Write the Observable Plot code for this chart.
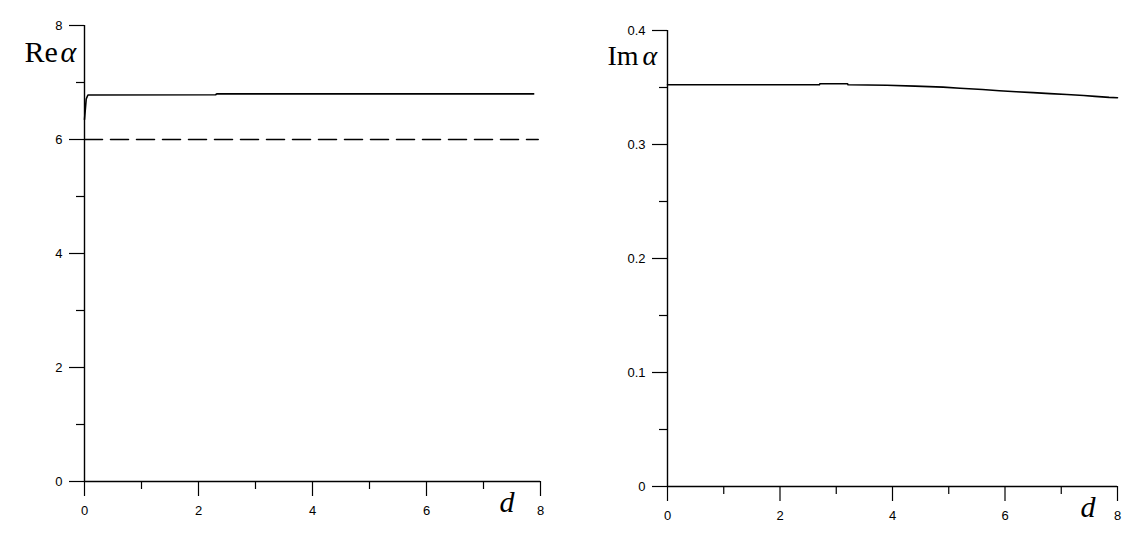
<!DOCTYPE html>
<html>
<head>
<meta charset="utf-8">
<script src="https://cdn.jsdelivr.net/npm/d3@7"></script>
<script src="https://cdn.jsdelivr.net/npm/@observablehq/plot@0.6"></script>
<style>
  html, body { margin: 0; padding: 0; background: #fff; }
  #wrap { width: 1140px; height: 545px; display: flex; flex-direction: row; }
  #wrap svg { display: block; }
  #wrap svg g[aria-label*="tick label"] text { font-size: 13px !important; font-family: 'Liberation Sans', Arial, sans-serif !important; }
</style>
</head>
<body>
<div id="wrap"></div>
<script>
// ---- Data ----
// Left panel: Re(alpha) vs d
const reD   = [0, 0.03, 0.06, 2.30, 2.32, 7.88];
const reVal = [6.35, 6.71, 6.78, 6.785, 6.80, 6.80];
// Dashed reference level
const refD   = [0, 7.96];
const refVal = [6, 6];
// Right panel: Im(alpha) vs d
const imD   = [0, 2.70, 2.71, 3.20, 3.21, 3.90, 4.40, 4.90, 5.20, 5.60, 5.90, 6.20, 6.50, 6.80, 7.10, 7.40, 7.60, 7.85, 8.00];
const imVal = [0.3524, 0.3524, 0.3533, 0.3533, 0.3524, 0.3520, 0.3512, 0.3503, 0.3494, 0.3483, 0.3472, 0.3463, 0.3455, 0.3446, 0.3438, 0.3430, 0.3422, 0.3413, 0.3410];

// Ticks
const xMajor = [0, 2, 4, 6, 8];
const xMinor = [1, 3, 5, 7];
const reMajor = [0, 2, 4, 6, 8];
const reMinor = [1, 3, 5, 7];
const imMajor = [0, 0.1, 0.2, 0.3, 0.4];
const imMinor = [0.05, 0.15, 0.25, 0.35];

const reRows  = reD.map((d, i) => ({d, v: reVal[i]}));
const refRows = refD.map((d, i) => ({d, v: refVal[i]}));
const imRows  = imD.map((d, i) => ({d, v: imVal[i]}));

const serif = "'Liberation Serif', 'Times New Roman', serif";
const sans = "'Liberation Sans', Arial, sans-serif";
const fmt = d => String(d);

function axesMarks(yMajor, yMinor) {
  return [
    Plot.ruleX([0], {stroke: "#000", strokeWidth: 1.4}),
    Plot.ruleY([0], {stroke: "#000", strokeWidth: 1.4}),
    Plot.axisX(xMajor, {tickSize: 15, tickPadding: 9, tickFormat: fmt, label: null, stroke: "#000", fill: "#000", strokeWidth: 1.2, fontSize: 13, fontFamily: sans}),
    Plot.axisX(xMinor, {tickSize: 8, text: null, label: null, stroke: "#000", strokeWidth: 1.2}),
    Plot.axisY(yMajor, {tickSize: 15, tickPadding: 7, tickFormat: fmt, label: null, stroke: "#000", fill: "#000", strokeWidth: 1.2, fontSize: 13, fontFamily: sans}),
    Plot.axisY(yMinor, {tickSize: 8, text: null, label: null, stroke: "#000", strokeWidth: 1.2})
  ];
}

const left = Plot.plot({
  width: 570,
  height: 545,
  marginLeft: 84,
  marginRight: 30,
  marginTop: 25,
  marginBottom: 64,
  style: {fontFamily: sans, fontSize: "13px", color: "#000", background: "#fff", overflow: "visible"},
  x: {domain: [0, 8], axis: null},
  y: {domain: [0, 8], axis: null},
  marks: [
    ...axesMarks(reMajor, reMinor),
    Plot.line(refRows, {x: "d", y: "v", stroke: "#000", strokeWidth: 1.5, strokeDasharray: "18,8"}),
    Plot.line(reRows, {x: "d", y: "v", stroke: "#000", strokeWidth: 1.6}),
    Plot.text(["Re"], {frameAnchor: "top-left", text: d => d, dx: -60, dy: 36, textAnchor: "start", lineAnchor: "bottom", fontFamily: serif, fontSize: 30, fill: "#000"}),
    Plot.text(["α"], {frameAnchor: "top-left", text: d => d, dx: -24, dy: 36, textAnchor: "start", lineAnchor: "bottom", fontFamily: serif, fontStyle: "italic", fontSize: 30, fill: "#000"}),
    Plot.text(["d"], {frameAnchor: "bottom-right", text: d => d, dx: -41, dy: 30, textAnchor: "start", lineAnchor: "bottom", fontFamily: serif, fontStyle: "italic", fontSize: 30, fill: "#000"})
  ]
});

const right = Plot.plot({
  width: 570,
  height: 545,
  marginLeft: 97,
  marginRight: 23,
  marginTop: 30,
  marginBottom: 59,
  style: {fontFamily: sans, fontSize: "13px", color: "#000", background: "#fff", overflow: "visible"},
  x: {domain: [0, 8], axis: null},
  y: {domain: [0, 0.4], axis: null},
  marks: [
    ...axesMarks(imMajor, imMinor),
    Plot.line(imRows, {x: "d", y: "v", stroke: "#000", strokeWidth: 1.6}),
    Plot.text(["Im"], {frameAnchor: "top-left", text: d => d, dx: -60, dy: 34, textAnchor: "start", lineAnchor: "bottom", fontFamily: serif, fontSize: 28, fill: "#000"}),
    Plot.text(["α"], {frameAnchor: "top-left", text: d => d, dx: -25, dy: 34, textAnchor: "start", lineAnchor: "bottom", fontFamily: serif, fontStyle: "italic", fontSize: 28, fill: "#000"}),
    Plot.text(["d"], {frameAnchor: "bottom-right", text: d => d, dx: -37, dy: 30, textAnchor: "start", lineAnchor: "bottom", fontFamily: serif, fontStyle: "italic", fontSize: 30, fill: "#000"})
  ]
});

const wrap = document.getElementById("wrap");
wrap.appendChild(left);
wrap.appendChild(right);
d3.selectAll("#wrap svg g[aria-label*='tick label']").attr("font-size", 13).style("font-size", "13px");
</script>
</body>
</html>
